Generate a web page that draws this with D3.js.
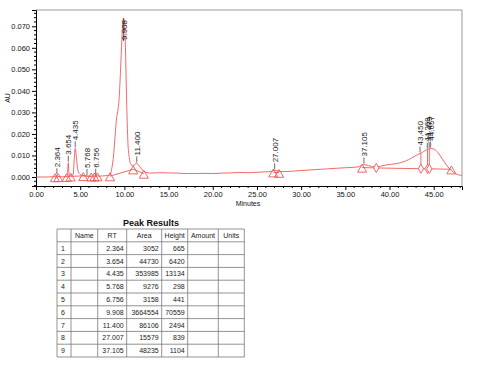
<!DOCTYPE html>
<html><head><meta charset="utf-8">
<script src="https://cdn.jsdelivr.net/npm/d3@7"></script>
<style>
html,body{margin:0;padding:0;background:#fff;}
svg{display:block;font-family:"Liberation Sans",Arial,sans-serif;}
</style></head>
<body>
<svg id="c" width="484" height="367"></svg>
<script>
// ---- data ----
const traceTime = [0,1.0,2.0,2.25,2.364,2.48,3.0,3.5,3.6,3.654,3.72,3.82,4.2,4.32,4.435,4.55,4.7,4.9,5.2,5.768,6.2,6.756,7.2,7.8,8.37,8.55,8.74,8.95,9.12,9.25,9.4,9.57,9.72,9.83,9.908,10.0,10.12,10.25,10.4,10.55,10.75,11.0,11.4,11.7,12.0,12.4,13.0,14.0,15.0,16.0,17.0,18.0,19.0,20.0,21.0,22.0,23.0,24.0,25.0,26.0,26.6,27.007,27.4,28.0,30.0,33.0,35.0,36.5,37.105,37.6,38.5,39.5,40.2,41.0,41.8,42.5,43.0,43.6,44.1,44.6,45.0,45.5,46.0,46.5,47.0,47.5,48.2];
const traceAU   = [0.0000,0.0000,0.0001,0.0003,0.0008,0.0002,0.0001,0.0002,0.0040,0.0066,0.0022,0.0006,0.0010,0.0080,0.0133,0.0100,0.0040,0.0016,0.0008,0.0005,0.0003,0.0006,0.0004,0.0006,0.0008,0.0035,0.0085,0.0190,0.0275,0.0305,0.0360,0.0500,0.0640,0.0725,0.0737,0.0725,0.0600,0.0360,0.0160,0.0090,0.0057,0.0053,0.0063,0.0050,0.0034,0.0022,0.0018,0.0020,0.0019,0.0018,0.0016,0.0016,0.0017,0.0016,0.0018,0.0019,0.0021,0.0020,0.0022,0.0024,0.0026,0.0031,0.0027,0.0025,0.0030,0.0038,0.0043,0.0047,0.0058,0.0053,0.0047,0.0055,0.0059,0.0064,0.0074,0.0088,0.0100,0.0112,0.0124,0.0132,0.0130,0.0112,0.0082,0.0052,0.0030,0.0015,0.0007];

// integration baselines (time, AU)
const baseSegT  = [[2.15,2.52],[3.47,3.92],[3.92,5.35],[5.35,6.25],[6.6,6.95],[8.37,11.0],[11.0,12.2],[26.85,27.5],[36.9,38.5,47.0]];
const baseSegAU = [[0.0000,0.0000],[0.0001,0.0003],[0.0003,0.0005],[0.0005,0.0003],[0.0003,0.0004],[0.0004,0.0036],[0.0036,0.0016],[0.0022,0.0020],[0.0044,0.0042,0.0036]];
const triangleTimes = [2.15,2.52,3.47,3.92,5.35,6.25,6.6,6.95,8.37,11.0,12.2,26.85,27.5,36.9,47.0];
const diamondTimes  = [38.5,43.55,44.3,44.5];
const dropLineTimes = [43.55,44.3,44.5];

const labelRT   = [2.364,3.654,4.435,5.768,6.756,9.908,11.400,27.007,37.105,43.450,44.269,44.479,44.657];
const labelText = ["2.364","3.654","4.435","5.768","6.756","9.908","11.400","27.007","37.105","43.450","44.269","44.479","44.657"];

const xTicks = [0,5,10,15,20,25,30,35,40,45];
const yTicks = [0,0.01,0.02,0.03,0.04,0.05,0.06,0.07];

const tableCols = ["", "Name", "RT", "Area", "Height", "Amount", "Units"];
const rowNo    = [1,2,3,4,5,6,7,8,9];
const peakRT   = ["2.364","3.654","4.435","5.768","6.756","9.908","11.400","27.007","37.105"];
const peakArea = [3052,44730,353985,9276,3158,3664554,86106,15579,48235];
const peakHeight = [665,6420,13134,298,441,70559,2494,839,1104];

// ---- chart ----
const svg = d3.select("#c");
const red = "#f25656";
const L = 36, R = 462, T = 10, B = 186;
const x = d3.scaleLinear().domain([0, 48.2]).range([L, R]);
const y = d3.scaleLinear().domain([-0.00418, 0.07756]).range([B, T]);

// frame
svg.append("path").attr("d", `M${L},${T}H${R}V${B}`).attr("fill","none").attr("stroke","#999").attr("stroke-width",1);

// axes
const xAxis = d3.axisBottom(x).tickValues(xTicks).tickFormat(d3.format(".2f")).tickSize(4).tickPadding(2);
const gx = svg.append("g").attr("transform",`translate(0,${B})`).call(xAxis);
const xMinor = d3.range(0, 49, 1).filter(v => v % 5 !== 0);
gx.selectAll(".minor").data(xMinor).enter().append("line").attr("class","minor")
  .attr("x1",d=>x(d)).attr("x2",d=>x(d)).attr("y1",0).attr("y2",2).attr("stroke","#000");

const yAxis = d3.axisLeft(y).tickValues(yTicks).tickFormat(d3.format(".3f")).tickSize(4).tickPadding(2);
const gy = svg.append("g").attr("transform",`translate(${L},0)`).call(yAxis);
const yMinor = d3.range(-0.004, 0.0776, 0.002).filter(v => Math.abs(Math.round(v*1000)) % 10 !== 0);
gy.selectAll(".minor").data(yMinor).enter().append("line").attr("class","minor")
  .attr("x1",0).attr("x2",-2).attr("y1",d=>y(d)).attr("y2",d=>y(d)).attr("stroke","#000");

[gx, gy].forEach(g => {
  g.select(".domain").attr("stroke","#000");
  g.selectAll(".tick line").attr("stroke","#000");
  g.selectAll("text").attr("font-size","7.5px").attr("fill","#111").attr("font-family",'"Liberation Sans",Arial,sans-serif');
});

svg.append("text").attr("x",248).attr("y",206).attr("text-anchor","middle").attr("font-size","7px").attr("fill","#111").text("Minutes");
svg.append("text").attr("transform","translate(10,98) rotate(-90)").attr("text-anchor","middle").attr("font-size","7px").attr("fill","#111").text("AU");

// trace
const pts = traceTime.map((t,i)=>[t, traceAU[i]]);
const line = d3.line().x(d=>x(d[0])).y(d=>y(d[1])).curve(d3.curveMonotoneX);
const lineLin = d3.line().x(d=>x(d[0])).y(d=>y(d[1]));
const interp = t => {
  for (let i=1;i<traceTime.length;i++) if (t<=traceTime[i]) {
    const f=(t-traceTime[i-1])/(traceTime[i]-traceTime[i-1]);
    return traceAU[i-1]+f*(traceAU[i]-traceAU[i-1]);
  }
  return traceAU[traceAU.length-1];
};
const baseAt = t => {
  for (let s=0;s<baseSegT.length;s++){
    const ts=baseSegT[s], as=baseSegAU[s];
    for (let i=1;i<ts.length;i++) if (t>=ts[i-1] && t<=ts[i]) {
      const f=(t-ts[i-1])/(ts[i]-ts[i-1]); return as[i-1]+f*(as[i]-as[i-1]);
    }
  }
  return interp(t);
};

// baselines
baseSegT.forEach((ts,s)=>{
  svg.append("path").attr("d", lineLin(ts.map((t,i)=>[t, baseSegAU[s][i]])))
    .attr("fill","none").attr("stroke",red).attr("stroke-width",0.9);
});

// drop lines
dropLineTimes.forEach(t=>{
  svg.append("line").attr("x1",x(t)).attr("x2",x(t)).attr("y1",y(baseAt(t))).attr("y2",y(interp(t)))
    .attr("stroke",red).attr("stroke-width",0.9);
});

svg.append("path").attr("d", line(pts)).attr("fill","none").attr("stroke",red).attr("stroke-width",0.9);

// markers
const tri = d3.symbol().type(d3.symbolTriangle).size(36);
svg.selectAll(".tri").data(triangleTimes).enter().append("path")
  .attr("d", tri).attr("transform", d=>`translate(${x(d)},${y(baseAt(d))+2})`)
  .attr("fill","none").attr("stroke",red).attr("stroke-width",0.9);
const dia = d3.symbol().type(d3.symbolDiamond).size(24);
svg.selectAll(".dia").data(diamondTimes).enter().append("path")
  .attr("d", dia).attr("transform", d=>`translate(${x(d)},${y(baseAt(d))})`)
  .attr("fill","#fff").attr("stroke",red).attr("stroke-width",0.9);

// peak labels
labelRT.forEach((t,i)=>{
  const py = y(interp(t));
  const txt = labelText[i];
  const len = txt.length*4.4 - 2;
  const bottom = Math.max(py - 8, T + 10 + len);
  svg.append("line").attr("x1",x(t)).attr("x2",x(t)).attr("y1", Math.min(py, bottom+7)).attr("y2", bottom+1)
    .attr("stroke","#444").attr("stroke-width",0.8);
  svg.append("text").attr("transform",`translate(${x(t)+3},${bottom}) rotate(-90)`)
    .attr("font-size","8px").attr("fill","#222").text(txt);
});

// ---- table ----
const tx = [57, 71, 97.7, 126.7, 161.7, 187.7, 218.3, 244.3];
const tTop = 229, hH = 12.8, rH = 12.8;
svg.append("text").attr("x",151).attr("y",226).attr("text-anchor","middle")
  .attr("font-size","9px").attr("font-weight","bold").attr("fill","#111").text("Peak Results");
const nRows = rowNo.length;
const tBot = tTop + hH + nRows*rH;
const tg = svg.append("g").attr("stroke","#777").attr("stroke-width",0.8);
tx.forEach(v=> tg.append("line").attr("x1",v).attr("x2",v).attr("y1",tTop).attr("y2",tBot));
for (let r=0;r<=nRows+1;r++){
  const yy = r===0 ? tTop : tTop + hH + (r-1)*rH;
  tg.append("line").attr("x1",tx[0]).attr("x2",tx[tx.length-1]).attr("y1",yy).attr("y2",yy);
}
tableCols.forEach((c,i)=>{
  svg.append("text").attr("x",(tx[i]+tx[i+1])/2).attr("y",tTop+hH/2+2.5).attr("text-anchor","middle")
    .attr("font-size","7px").attr("fill","#222").text(c);
});
rowNo.forEach((n,r)=>{
  const yy = tTop + hH + r*rH + rH/2 + 2.5;
  svg.append("text").attr("x",tx[0]+4).attr("y",yy).attr("font-size","7px").attr("fill","#222").text(n);
  svg.append("text").attr("x",tx[3]-3).attr("y",yy).attr("text-anchor","end").attr("font-size","7px").attr("fill","#222").text(peakRT[r]);
  svg.append("text").attr("x",tx[4]-3).attr("y",yy).attr("text-anchor","end").attr("font-size","7px").attr("fill","#222").text(peakArea[r]);
  svg.append("text").attr("x",tx[5]-3).attr("y",yy).attr("text-anchor","end").attr("font-size","7px").attr("fill","#222").text(peakHeight[r]);
});
</script>
</body></html>
